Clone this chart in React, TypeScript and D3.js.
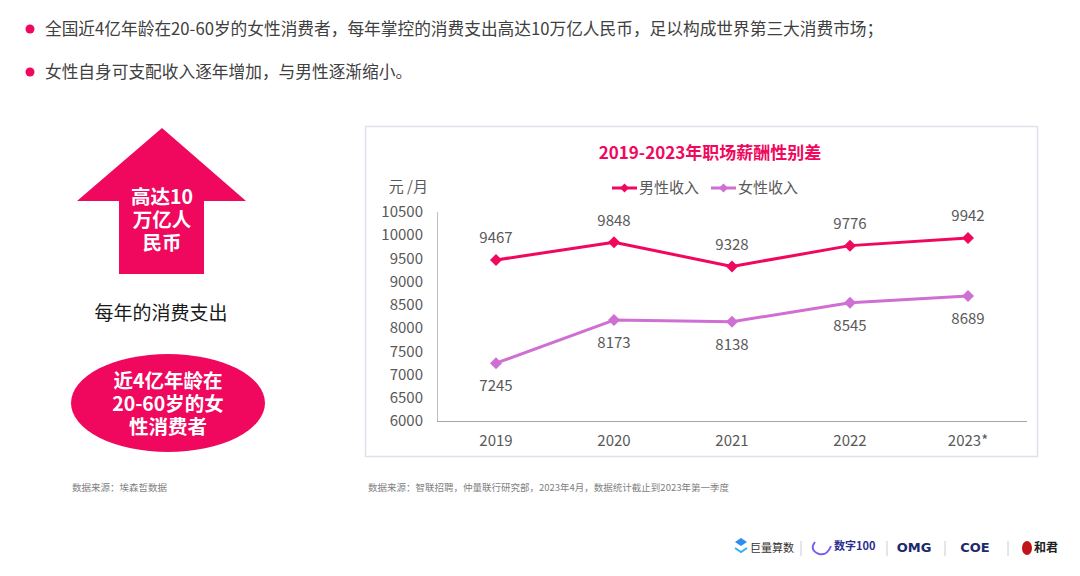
import React from "react";
import * as d3 from "d3";

const years = ["2019", "2020", "2021", "2022", "2023*"];
const maleIncome = [9467, 9848, 9328, 9776, 9942];
const femaleIncome = [7245, 8173, 8138, 8545, 8689];
const yTicks = [6000, 6500, 7000, 7500, 8000, 8500, 9000, 9500, 10000, 10500];
const seriesNames = ["男性收入", "女性收入"];
const bullets = [
  "全国近4亿年龄在20-60岁的女性消费者，每年掌控的消费支出高达10万亿人民币，足以构成世界第三大消费市场；",
  "女性自身可支配收入逐年增加，与男性逐渐缩小。",
];
const chartTitle = "2019-2023年职场薪酬性别差";
const unitLabel = "元 /月";
const arrowLines = ["高达10", "万亿人", "民币"];
const ellipseLines = ["近4亿年龄在", "20-60岁的女", "性消费者"];
const middleLabel = "每年的消费支出";
const sourceLeft = "数据来源：埃森哲数据";
const sourceRight = "数据来源：智联招聘，仲量联行研究部，2023年4月，数据统计截止到2023年第一季度";

const PINK = "#F0085E";
const ORCHID = "#CF6FD3";
const GRAY = "#595959";
const FONT = "'Noto Sans CJK SC', 'Noto Sans', sans-serif";

const diamond = (cx: number, cy: number, r: number) =>
  `M${cx},${cy - r}L${cx + r},${cy}L${cx},${cy + r}L${cx - r},${cy}Z`;

export default function App() {
  const x = d3.scalePoint<string>().domain(years).range([437, 1027]).padding(0.5);
  const y = d3.scaleLinear().domain([6000, 10500]).range([421, 212]);
  const line = d3
    .line<number>()
    .x((_, i) => x(years[i]) as number)
    .y((d) => y(d));

  const series = [
    { name: seriesNames[0], values: maleIncome, color: PINK, labelDy: -22 },
    { name: seriesNames[1], values: femaleIncome, color: ORCHID, labelDy: 23 },
  ];

  return (
    <svg
      width={1080}
      height={576}
      style={{ position: "absolute", left: 0, top: 0, background: "#fff" }}
      fontFamily={FONT}
    >
      <rect width={1080} height={576} fill="#fff" />
      {/* bullets */}
      {bullets.map((b, i) => (
        <g key={i}>
          <circle cx={30} cy={29 + i * 43} r={4.5} fill={PINK} />
          <text x={45} y={29 + i * 43} dy="0.35em" fontSize={16.7} fill="#404040">
            {b}
          </text>
        </g>
      ))}

      {/* arrow */}
      <polygon
        points="162,128 246,201 204,201 204,274 119,274 119,201 77,201"
        fill={PINK}
      />
      <text textAnchor="middle" fontSize={19.5} fontWeight="bold" fill="#fff">
        {arrowLines.map((t, i) => (
          <tspan key={i} x={162} y={197 + i * 23} dy="0.35em">
            {t}
          </tspan>
        ))}
      </text>
      <text x={161} y={313} dy="0.35em" textAnchor="middle" fontSize={19} fill="#1a1a1a">
        {middleLabel}
      </text>
      <ellipse cx={168} cy={403} rx={97} ry={49} fill={PINK} />
      <text textAnchor="middle" fontSize={19.5} fontWeight="bold" fill="#fff">
        {ellipseLines.map((t, i) => (
          <tspan key={i} x={168} y={381 + i * 23} dy="0.35em">
            {t}
          </tspan>
        ))}
      </text>
      <text x={72} y={488} dy="0.35em" fontSize={9.5} fill="#7f7f7f">
        {sourceLeft}
      </text>

      {/* chart panel */}
      <rect x={365.5} y={126.5} width={672} height={330} fill="#fff" stroke="#dde2ea" strokeWidth={1.5} />
      <text x={710} y={153} dy="0.35em" textAnchor="middle" fontSize={17} fontWeight="bold" fill={PINK}>
        {chartTitle}
      </text>
      <text x={428} y={187} dy="0.35em" textAnchor="end" fontSize={15} fill={GRAY}>
        {unitLabel}
      </text>
      {/* legend */}
      {series.map((s, i) => {
        const lx = 612 + i * 99;
        return (
          <g key={s.name}>
            <line x1={lx} x2={lx + 25} y1={188} y2={188} stroke={s.color} strokeWidth={3} />
            <path d={diamond(lx + 12.5, 188, 4.5)} fill={s.color} />
            <text x={lx + 27} y={188} dy="0.35em" fontSize={15} fill={GRAY}>
              {s.name}
            </text>
          </g>
        );
      })}

      {/* axes */}
      <line x1={437.5} x2={437.5} y1={212} y2={421.5} stroke="#bfbfbf" strokeWidth={1} />
      <line x1={437} x2={1027} y1={421.5} y2={421.5} stroke="#a6a6a6" strokeWidth={1.2} />
      {yTicks.map((t) => (
        <text key={t} x={423} y={y(t)} dy="0.35em" textAnchor="end" fontSize={15} fill={GRAY}>
          {t}
        </text>
      ))}
      {years.map((yr) => (
        <text key={yr} x={x(yr)} y={441} dy="0.35em" textAnchor="middle" fontSize={15} fill={GRAY}>
          {yr}
        </text>
      ))}

      {/* series */}
      {series.map((s) => (
        <g key={s.name}>
          <path d={line(s.values) as string} fill="none" stroke={s.color} strokeWidth={3} strokeLinejoin="round" />
          {s.values.map((v, i) => (
            <g key={i}>
              <path d={diamond(x(years[i]) as number, y(v), 6)} fill={s.color} />
              <text
                x={x(years[i])}
                y={y(v) + s.labelDy}
                dy="0.35em"
                textAnchor="middle"
                fontSize={15}
                fill={GRAY}
              >
                {v}
              </text>
            </g>
          ))}
        </g>
      ))}

      <text x={368} y={488} dy="0.35em" fontSize={9.5} fill="#7f7f7f">
        {sourceRight}
      </text>

      {/* footer logos (approximation) */}
      <g>
        <path d="M735,542 l6,-4 l6,4 l-6,4z" fill="#2f8cf0" />
        <path d="M735,548 l6,4 l6,-4" fill="none" stroke="#34b1f5" strokeWidth={2} />
        <text x={750} y={548} dy="0.35em" fontSize={11} fill="#333">巨量算数</text>
        <line x1={801} x2={801} y1={541} y2={556} stroke="#ccc" />
        <path d="M815,542 q-6,8 4,12 q8,2 12,-8" fill="none" stroke="#7b5cf0" strokeWidth={2} />
        <text x={834} y={546} dy="0.35em" fontSize={11} fontWeight="bold" fill="#2b2f8f">数字100</text>
        <line x1={887} x2={887} y1={541} y2={556} stroke="#ccc" />
        <text x={914} y={547} dy="0.35em" textAnchor="middle" fontSize={13} fontWeight="900" fill="#1d2a6b" fontFamily="'DejaVu Sans', sans-serif">OMG</text>
        <line x1={945} x2={945} y1={541} y2={556} stroke="#ccc" />
        <text x={975} y={547} dy="0.35em" textAnchor="middle" fontSize={13} fontWeight="900" fill="#1d2a6b" fontFamily="'DejaVu Sans', sans-serif">COE</text>
        <line x1={1008} x2={1008} y1={541} y2={556} stroke="#ccc" />
        <ellipse cx={1027} cy={548} rx={5} ry={7} fill="#c0141b" />
        <text x={1034} y={548} dy="0.35em" fontSize={12} fontWeight="bold" fill="#222">和君</text>
      </g>
    </svg>
  );
}
